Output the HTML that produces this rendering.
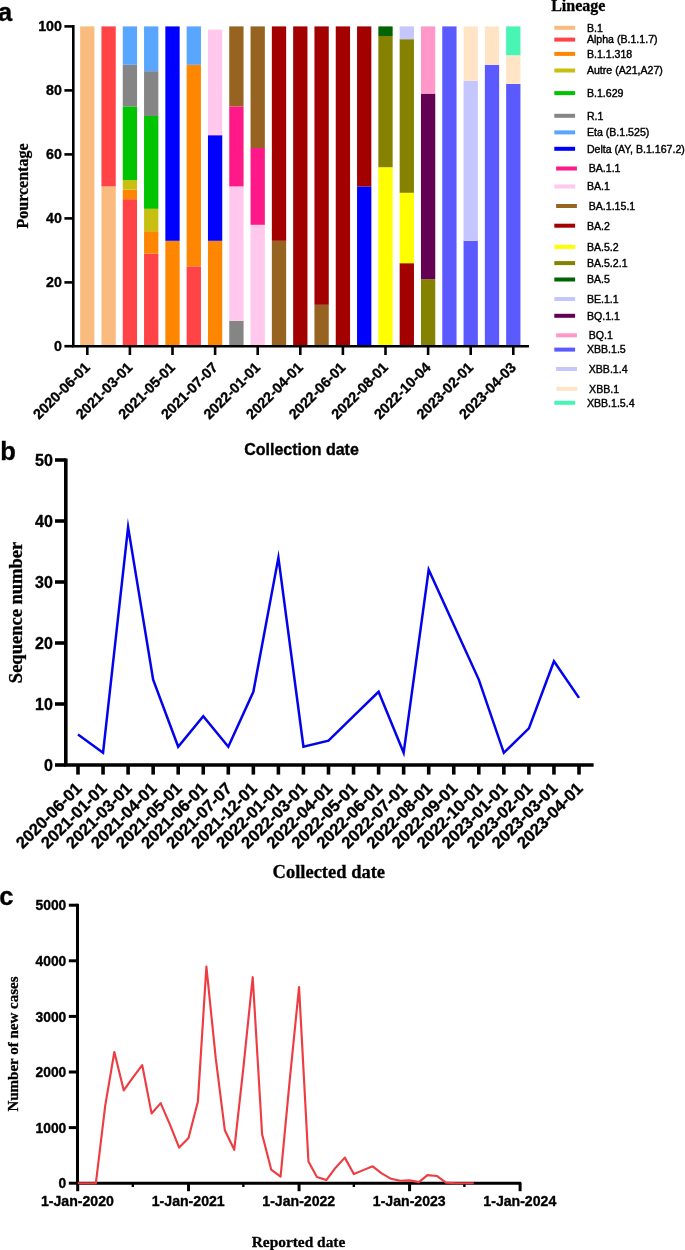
<!DOCTYPE html>
<html lang="en"><head><meta charset="utf-8"><title>Lineage figure</title>
<style>
html,body{margin:0;padding:0;background:#fff;}
svg{display:block;will-change:transform;transform:translateZ(0);}
.sb{font-family:"Liberation Sans", Arial, Helvetica, sans-serif;font-weight:bold;fill:#000;stroke:#000;stroke-width:0.35px;stroke-linejoin:round;}
.sr{font-family:"Liberation Sans", Arial, Helvetica, sans-serif;font-weight:normal;fill:#000;}
.tb{font-family:"Liberation Serif", "Times New Roman", Times, serif;font-weight:bold;fill:#000;stroke:#000;stroke-width:0.3px;stroke-linejoin:round;}
</style></head><body>
<svg width="685" height="1250" viewBox="0 0 685 1250">
<rect x="0" y="0" width="685" height="1250" fill="#ffffff"/>
<g id="panel-a">
<text class="sb" x="-2" y="21.2" font-size="25.5">a</text>
<rect x="80.15" y="26.40" width="14.30" height="320.00" fill="#F9BC7E"/>
<rect x="101.45" y="186.40" width="14.30" height="160.00" fill="#F9BC7E"/>
<rect x="101.45" y="26.40" width="14.30" height="160.00" fill="#FF4346"/>
<rect x="122.75" y="199.20" width="14.30" height="147.20" fill="#FF4346"/>
<rect x="122.75" y="189.60" width="14.30" height="9.60" fill="#FF8600"/>
<rect x="122.75" y="180.00" width="14.30" height="9.60" fill="#C8C010"/>
<rect x="122.75" y="106.40" width="14.30" height="73.60" fill="#00C400"/>
<rect x="122.75" y="64.80" width="14.30" height="41.60" fill="#858585"/>
<rect x="122.75" y="26.40" width="14.30" height="38.40" fill="#58A6FF"/>
<rect x="144.05" y="253.60" width="14.30" height="92.80" fill="#FF4346"/>
<rect x="144.05" y="231.20" width="14.30" height="22.40" fill="#FF8600"/>
<rect x="144.05" y="208.80" width="14.30" height="22.40" fill="#C8C010"/>
<rect x="144.05" y="116.00" width="14.30" height="92.80" fill="#00C400"/>
<rect x="144.05" y="71.20" width="14.30" height="44.80" fill="#858585"/>
<rect x="144.05" y="26.40" width="14.30" height="44.80" fill="#58A6FF"/>
<rect x="165.35" y="240.80" width="14.30" height="105.60" fill="#FF8600"/>
<rect x="165.35" y="26.40" width="14.30" height="214.40" fill="#0000FF"/>
<rect x="186.65" y="266.40" width="14.30" height="80.00" fill="#FF4346"/>
<rect x="186.65" y="64.80" width="14.30" height="201.60" fill="#FF8600"/>
<rect x="186.65" y="26.40" width="14.30" height="38.40" fill="#58A6FF"/>
<rect x="207.95" y="240.80" width="14.30" height="105.60" fill="#FF8600"/>
<rect x="207.95" y="135.20" width="14.30" height="105.60" fill="#0000FF"/>
<rect x="207.95" y="29.60" width="14.30" height="105.60" fill="#FFC8EC"/>
<rect x="229.25" y="320.80" width="14.30" height="25.60" fill="#858585"/>
<rect x="229.25" y="186.40" width="14.30" height="134.40" fill="#FFC8EC"/>
<rect x="229.25" y="106.40" width="14.30" height="80.00" fill="#FF1888"/>
<rect x="229.25" y="26.40" width="14.30" height="80.00" fill="#966420"/>
<rect x="250.55" y="224.80" width="14.30" height="121.60" fill="#FFC8EC"/>
<rect x="250.55" y="148.00" width="14.30" height="76.80" fill="#FF1888"/>
<rect x="250.55" y="26.40" width="14.30" height="121.60" fill="#966420"/>
<rect x="271.85" y="240.80" width="14.30" height="105.60" fill="#966420"/>
<rect x="271.85" y="26.40" width="14.30" height="214.40" fill="#A30000"/>
<rect x="293.15" y="26.40" width="14.30" height="320.00" fill="#A30000"/>
<rect x="314.45" y="304.80" width="14.30" height="41.60" fill="#966420"/>
<rect x="314.45" y="26.40" width="14.30" height="278.40" fill="#A30000"/>
<rect x="335.75" y="26.40" width="14.30" height="320.00" fill="#A30000"/>
<rect x="357.05" y="186.40" width="14.30" height="160.00" fill="#0000FF"/>
<rect x="357.05" y="26.40" width="14.30" height="160.00" fill="#A30000"/>
<rect x="378.35" y="167.20" width="14.30" height="179.20" fill="#FFFF00"/>
<rect x="378.35" y="36.00" width="14.30" height="131.20" fill="#848200"/>
<rect x="378.35" y="26.40" width="14.30" height="9.60" fill="#006400"/>
<rect x="399.65" y="263.20" width="14.30" height="83.20" fill="#A30000"/>
<rect x="399.65" y="192.80" width="14.30" height="70.40" fill="#FFFF00"/>
<rect x="399.65" y="39.20" width="14.30" height="153.60" fill="#848200"/>
<rect x="399.65" y="26.40" width="14.30" height="12.80" fill="#C6C6FF"/>
<rect x="420.95" y="279.20" width="14.30" height="67.20" fill="#848200"/>
<rect x="420.95" y="93.60" width="14.30" height="185.60" fill="#640054"/>
<rect x="420.95" y="26.40" width="14.30" height="67.20" fill="#FF98C8"/>
<rect x="442.25" y="26.40" width="14.30" height="320.00" fill="#5B5AFF"/>
<rect x="463.55" y="240.80" width="14.30" height="105.60" fill="#5B5AFF"/>
<rect x="463.55" y="80.80" width="14.30" height="160.00" fill="#C6C6FF"/>
<rect x="463.55" y="26.40" width="14.30" height="54.40" fill="#FFE4C6"/>
<rect x="484.85" y="64.80" width="14.30" height="281.60" fill="#5B5AFF"/>
<rect x="484.85" y="26.40" width="14.30" height="38.40" fill="#FFE4C6"/>
<rect x="506.15" y="84.00" width="14.30" height="262.40" fill="#5B5AFF"/>
<rect x="506.15" y="55.20" width="14.30" height="28.80" fill="#FFE4C6"/>
<rect x="506.15" y="26.40" width="14.30" height="28.80" fill="#48F5B4"/>
<path d="M73.30 25.10 V346.20 H529" fill="none" stroke="#000" stroke-width="2.6"/>
<path d="M64.4 346.20 H73.30" stroke="#000" stroke-width="2.6"/>
<text class="sb" x="61.8" y="351.40" font-size="14.2" text-anchor="end">0</text>
<path d="M64.4 282.40 H73.30" stroke="#000" stroke-width="2.6"/>
<text class="sb" x="61.8" y="287.40" font-size="14.2" text-anchor="end">20</text>
<path d="M64.4 218.40 H73.30" stroke="#000" stroke-width="2.6"/>
<text class="sb" x="61.8" y="223.40" font-size="14.2" text-anchor="end">40</text>
<path d="M64.4 154.40 H73.30" stroke="#000" stroke-width="2.6"/>
<text class="sb" x="61.8" y="159.40" font-size="14.2" text-anchor="end">60</text>
<path d="M64.4 90.40 H73.30" stroke="#000" stroke-width="2.6"/>
<text class="sb" x="61.8" y="95.40" font-size="14.2" text-anchor="end">80</text>
<path d="M64.4 26.40 H73.30" stroke="#000" stroke-width="2.6"/>
<text class="sb" x="61.8" y="31.40" font-size="14.2" text-anchor="end">100</text>
<path d="M87.30 346.40 V355" stroke="#000" stroke-width="2.6"/>
<text class="sb" font-size="14.3" text-anchor="end" transform="translate(90.80 368.3) rotate(-45)">2020-06-01</text>
<path d="M129.90 346.40 V355" stroke="#000" stroke-width="2.6"/>
<text class="sb" font-size="14.3" text-anchor="end" transform="translate(133.40 368.3) rotate(-45)">2021-03-01</text>
<path d="M172.50 346.40 V355" stroke="#000" stroke-width="2.6"/>
<text class="sb" font-size="14.3" text-anchor="end" transform="translate(176.00 368.3) rotate(-45)">2021-05-01</text>
<path d="M215.10 346.40 V355" stroke="#000" stroke-width="2.6"/>
<text class="sb" font-size="14.3" text-anchor="end" transform="translate(218.60 368.3) rotate(-45)">2021-07-07</text>
<path d="M257.70 346.40 V355" stroke="#000" stroke-width="2.6"/>
<text class="sb" font-size="14.3" text-anchor="end" transform="translate(261.20 368.3) rotate(-45)">2022-01-01</text>
<path d="M300.30 346.40 V355" stroke="#000" stroke-width="2.6"/>
<text class="sb" font-size="14.3" text-anchor="end" transform="translate(303.80 368.3) rotate(-45)">2022-04-01</text>
<path d="M342.90 346.40 V355" stroke="#000" stroke-width="2.6"/>
<text class="sb" font-size="14.3" text-anchor="end" transform="translate(346.40 368.3) rotate(-45)">2022-06-01</text>
<path d="M385.50 346.40 V355" stroke="#000" stroke-width="2.6"/>
<text class="sb" font-size="14.3" text-anchor="end" transform="translate(389.00 368.3) rotate(-45)">2022-08-01</text>
<path d="M428.10 346.40 V355" stroke="#000" stroke-width="2.6"/>
<text class="sb" font-size="14.3" text-anchor="end" transform="translate(431.60 368.3) rotate(-45)">2022-10-04</text>
<path d="M470.70 346.40 V355" stroke="#000" stroke-width="2.6"/>
<text class="sb" font-size="14.3" text-anchor="end" transform="translate(474.20 368.3) rotate(-45)">2023-02-01</text>
<path d="M513.30 346.40 V355" stroke="#000" stroke-width="2.6"/>
<text class="sb" font-size="14.3" text-anchor="end" transform="translate(516.80 368.3) rotate(-45)">2023-04-03</text>
<text class="tb" font-size="16" text-anchor="middle" transform="translate(27.7 186) rotate(-90)">Pourcentage</text>
<text class="sb" font-size="16" text-anchor="middle" x="301.5" y="455.1">Collection date</text>
<text class="tb" font-size="16" x="551.2" y="10.6">Lineage</text>
<rect x="554.30" y="25.80" width="20.8" height="4" fill="#F9BC7E"/>
<text class="sr" font-size="10.6" x="586.90" y="31.60" stroke="#000" stroke-width="0.4">B.1</text>
<rect x="554.30" y="37.60" width="20.8" height="4" fill="#FF4346"/>
<text class="sr" font-size="10.6" x="586.90" y="43.40" stroke="#000" stroke-width="0.4">Alpha (B.1.1.7)</text>
<rect x="554.30" y="51.90" width="20.8" height="4" fill="#FF8600"/>
<text class="sr" font-size="10.6" x="586.90" y="57.70" stroke="#000" stroke-width="0.4">B.1.1.318</text>
<rect x="554.30" y="68.50" width="20.8" height="4" fill="#C8C010"/>
<text class="sr" font-size="10.6" x="586.90" y="74.30" stroke="#000" stroke-width="0.4">Autre (A21,A27)</text>
<rect x="554.30" y="91.10" width="20.8" height="4" fill="#00C400"/>
<text class="sr" font-size="10.6" x="586.90" y="96.90" stroke="#000" stroke-width="0.4">B.1.629</text>
<rect x="554.30" y="113.80" width="20.8" height="4" fill="#858585"/>
<text class="sr" font-size="10.6" x="586.90" y="119.60" stroke="#000" stroke-width="0.4">R.1</text>
<rect x="554.30" y="130.40" width="20.8" height="4" fill="#58A6FF"/>
<text class="sr" font-size="10.6" x="586.90" y="136.20" stroke="#000" stroke-width="0.4">Eta (B.1.525)</text>
<rect x="554.30" y="146.80" width="20.8" height="4" fill="#0000FF"/>
<text class="sr" font-size="10.6" x="586.90" y="152.60" stroke="#000" stroke-width="0.4">Delta (AY, B.1.167.2)</text>
<rect x="556.10" y="166.50" width="20.8" height="4" fill="#FF1888"/>
<text class="sr" font-size="10.6" x="588.70" y="172.30" stroke="#000" stroke-width="0.4">BA.1.1</text>
<rect x="554.30" y="184.50" width="20.8" height="4" fill="#FFC8EC"/>
<text class="sr" font-size="10.6" x="586.90" y="190.30" stroke="#000" stroke-width="0.4">BA.1</text>
<rect x="556.10" y="204.00" width="20.8" height="4" fill="#966420"/>
<text class="sr" font-size="10.6" x="588.70" y="209.80" stroke="#000" stroke-width="0.4">BA.1.15.1</text>
<rect x="554.30" y="223.70" width="20.8" height="4" fill="#A30000"/>
<text class="sr" font-size="10.6" x="586.90" y="229.50" stroke="#000" stroke-width="0.4">BA.2</text>
<rect x="554.30" y="244.90" width="20.8" height="4" fill="#FFFF00"/>
<text class="sr" font-size="10.6" x="586.90" y="250.70" stroke="#000" stroke-width="0.4">BA.5.2</text>
<rect x="554.30" y="261.10" width="20.8" height="4" fill="#848200"/>
<text class="sr" font-size="10.6" x="586.90" y="266.90" stroke="#000" stroke-width="0.4">BA.5.2.1</text>
<rect x="554.30" y="277.50" width="20.8" height="4" fill="#006400"/>
<text class="sr" font-size="10.6" x="586.90" y="283.30" stroke="#000" stroke-width="0.4">BA.5</text>
<rect x="554.30" y="297.00" width="20.8" height="4" fill="#C6C6FF"/>
<text class="sr" font-size="10.6" x="586.90" y="302.80" stroke="#000" stroke-width="0.4">BE.1.1</text>
<rect x="554.30" y="313.80" width="20.8" height="4" fill="#640054"/>
<text class="sr" font-size="10.6" x="586.90" y="319.60" stroke="#000" stroke-width="0.4">BQ.1.1</text>
<rect x="556.10" y="333.30" width="20.8" height="4" fill="#FF98C8"/>
<text class="sr" font-size="10.6" x="588.70" y="339.10" stroke="#000" stroke-width="0.4">BQ.1</text>
<rect x="554.30" y="347.60" width="20.8" height="4" fill="#5B5AFF"/>
<text class="sr" font-size="10.6" x="586.90" y="353.40" stroke="#000" stroke-width="0.4">XBB.1.5</text>
<rect x="556.10" y="367.00" width="20.8" height="4" fill="#C6C6FF"/>
<text class="sr" font-size="10.6" x="588.70" y="372.80" stroke="#000" stroke-width="0.4">XBB.1.4</text>
<rect x="556.50" y="386.80" width="20.8" height="4" fill="#FFE4C6"/>
<text class="sr" font-size="10.6" x="589.10" y="392.60" stroke="#000" stroke-width="0.4">XBB.1</text>
<rect x="554.30" y="400.80" width="20.8" height="4" fill="#48F5B4"/>
<text class="sr" font-size="10.6" x="586.90" y="406.60" stroke="#000" stroke-width="0.4">XBB.1.5.4</text>
</g>
<g id="panel-b">
<text class="sb" x="0.2" y="460.4" font-size="25.5">b</text>
<polyline points="78.00,734.50 103.05,752.80 128.10,527.10 153.15,679.60 178.20,746.70 203.25,716.20 228.30,746.70 253.35,691.80 278.40,557.60 303.45,746.70 328.50,740.60 353.55,716.20 378.60,691.80 403.65,752.80 428.70,569.80 453.75,624.70 478.80,679.60 503.85,752.80 528.90,728.40 553.95,661.30 579.00,697.90" fill="none" stroke="#0404EC" stroke-width="2.5" stroke-linejoin="miter" stroke-miterlimit="30"/>
<path d="M65.80 458.40 V765.00 H593.6" fill="none" stroke="#000" stroke-width="3.6"/>
<path d="M55.0 765.00 H65.80" stroke="#000" stroke-width="3.6"/>
<text class="sb" x="52.8" y="771.10" font-size="16" text-anchor="end">0</text>
<path d="M55.0 704.00 H65.80" stroke="#000" stroke-width="3.6"/>
<text class="sb" x="52.8" y="710.10" font-size="16" text-anchor="end">10</text>
<path d="M55.0 643.00 H65.80" stroke="#000" stroke-width="3.6"/>
<text class="sb" x="52.8" y="649.10" font-size="16" text-anchor="end">20</text>
<path d="M55.0 582.00 H65.80" stroke="#000" stroke-width="3.6"/>
<text class="sb" x="52.8" y="588.10" font-size="16" text-anchor="end">30</text>
<path d="M55.0 521.00 H65.80" stroke="#000" stroke-width="3.6"/>
<text class="sb" x="52.8" y="527.10" font-size="16" text-anchor="end">40</text>
<path d="M55.0 460.00 H65.80" stroke="#000" stroke-width="3.6"/>
<text class="sb" x="52.8" y="466.10" font-size="16" text-anchor="end">50</text>
<path d="M78.00 765.00 V774.6" stroke="#000" stroke-width="3.6"/>
<text class="sb" font-size="16.6" text-anchor="end" transform="translate(82.70 789.5) rotate(-45)">2020-06-01</text>
<path d="M103.05 765.00 V774.6" stroke="#000" stroke-width="3.6"/>
<text class="sb" font-size="16.6" text-anchor="end" transform="translate(107.75 789.5) rotate(-45)">2021-01-01</text>
<path d="M128.10 765.00 V774.6" stroke="#000" stroke-width="3.6"/>
<text class="sb" font-size="16.6" text-anchor="end" transform="translate(132.80 789.5) rotate(-45)">2021-03-01</text>
<path d="M153.15 765.00 V774.6" stroke="#000" stroke-width="3.6"/>
<text class="sb" font-size="16.6" text-anchor="end" transform="translate(157.85 789.5) rotate(-45)">2021-04-01</text>
<path d="M178.20 765.00 V774.6" stroke="#000" stroke-width="3.6"/>
<text class="sb" font-size="16.6" text-anchor="end" transform="translate(182.90 789.5) rotate(-45)">2021-05-01</text>
<path d="M203.25 765.00 V774.6" stroke="#000" stroke-width="3.6"/>
<text class="sb" font-size="16.6" text-anchor="end" transform="translate(207.95 789.5) rotate(-45)">2021-06-01</text>
<path d="M228.30 765.00 V774.6" stroke="#000" stroke-width="3.6"/>
<text class="sb" font-size="16.6" text-anchor="end" transform="translate(233.00 789.5) rotate(-45)">2021-07-07</text>
<path d="M253.35 765.00 V774.6" stroke="#000" stroke-width="3.6"/>
<text class="sb" font-size="16.6" text-anchor="end" transform="translate(258.05 789.5) rotate(-45)">2021-12-01</text>
<path d="M278.40 765.00 V774.6" stroke="#000" stroke-width="3.6"/>
<text class="sb" font-size="16.6" text-anchor="end" transform="translate(283.10 789.5) rotate(-45)">2022-01-01</text>
<path d="M303.45 765.00 V774.6" stroke="#000" stroke-width="3.6"/>
<text class="sb" font-size="16.6" text-anchor="end" transform="translate(308.15 789.5) rotate(-45)">2022-03-01</text>
<path d="M328.50 765.00 V774.6" stroke="#000" stroke-width="3.6"/>
<text class="sb" font-size="16.6" text-anchor="end" transform="translate(333.20 789.5) rotate(-45)">2022-04-01</text>
<path d="M353.55 765.00 V774.6" stroke="#000" stroke-width="3.6"/>
<text class="sb" font-size="16.6" text-anchor="end" transform="translate(358.25 789.5) rotate(-45)">2022-05-01</text>
<path d="M378.60 765.00 V774.6" stroke="#000" stroke-width="3.6"/>
<text class="sb" font-size="16.6" text-anchor="end" transform="translate(383.30 789.5) rotate(-45)">2022-06-01</text>
<path d="M403.65 765.00 V774.6" stroke="#000" stroke-width="3.6"/>
<text class="sb" font-size="16.6" text-anchor="end" transform="translate(408.35 789.5) rotate(-45)">2022-07-01</text>
<path d="M428.70 765.00 V774.6" stroke="#000" stroke-width="3.6"/>
<text class="sb" font-size="16.6" text-anchor="end" transform="translate(433.40 789.5) rotate(-45)">2022-08-01</text>
<path d="M453.75 765.00 V774.6" stroke="#000" stroke-width="3.6"/>
<text class="sb" font-size="16.6" text-anchor="end" transform="translate(458.45 789.5) rotate(-45)">2022-09-01</text>
<path d="M478.80 765.00 V774.6" stroke="#000" stroke-width="3.6"/>
<text class="sb" font-size="16.6" text-anchor="end" transform="translate(483.50 789.5) rotate(-45)">2022-10-01</text>
<path d="M503.85 765.00 V774.6" stroke="#000" stroke-width="3.6"/>
<text class="sb" font-size="16.6" text-anchor="end" transform="translate(508.55 789.5) rotate(-45)">2023-01-01</text>
<path d="M528.90 765.00 V774.6" stroke="#000" stroke-width="3.6"/>
<text class="sb" font-size="16.6" text-anchor="end" transform="translate(533.60 789.5) rotate(-45)">2023-02-01</text>
<path d="M553.95 765.00 V774.6" stroke="#000" stroke-width="3.6"/>
<text class="sb" font-size="16.6" text-anchor="end" transform="translate(558.65 789.5) rotate(-45)">2023-03-01</text>
<path d="M579.00 765.00 V774.6" stroke="#000" stroke-width="3.6"/>
<text class="sb" font-size="16.6" text-anchor="end" transform="translate(583.70 789.5) rotate(-45)">2023-04-01</text>
<text class="tb" font-size="18.5" text-anchor="middle" transform="translate(21.9 612.5) rotate(-90)">Sequence number</text>
<text class="tb" font-size="18.5" text-anchor="middle" x="328.8" y="877.5">Collected date</text>
</g>
<g id="panel-c">
<text class="sb" x="-0.8" y="904.5" font-size="25.5">c</text>
<path d="M77.50 903.70 V1183.20 H521.3" fill="none" stroke="#000" stroke-width="3"/>
<path d="M68.8 1183.20 H77.50" stroke="#000" stroke-width="3"/>
<text class="sb" x="66.3" y="1188.40" font-size="13.8" text-anchor="end">0</text>
<path d="M68.8 1127.60 H77.50" stroke="#000" stroke-width="3"/>
<text class="sb" x="66.3" y="1132.80" font-size="13.8" text-anchor="end">1000</text>
<path d="M68.8 1072.00 H77.50" stroke="#000" stroke-width="3"/>
<text class="sb" x="66.3" y="1077.20" font-size="13.8" text-anchor="end">2000</text>
<path d="M68.8 1016.40 H77.50" stroke="#000" stroke-width="3"/>
<text class="sb" x="66.3" y="1021.60" font-size="13.8" text-anchor="end">3000</text>
<path d="M68.8 960.80 H77.50" stroke="#000" stroke-width="3"/>
<text class="sb" x="66.3" y="966.00" font-size="13.8" text-anchor="end">4000</text>
<path d="M68.8 905.20 H77.50" stroke="#000" stroke-width="3"/>
<text class="sb" x="66.3" y="910.40" font-size="13.8" text-anchor="end">5000</text>
<path d="M77.70 1183.20 V1191.2" stroke="#000" stroke-width="3"/>
<text class="sb" font-size="14.1" text-anchor="middle" x="77.40" y="1206.4">1-Jan-2020</text>
<path d="M132.81 1183.20 V1187" stroke="#000" stroke-width="2.4"/>
<path d="M188.53 1183.20 V1191.2" stroke="#000" stroke-width="3"/>
<text class="sb" font-size="14.1" text-anchor="middle" x="188.23" y="1206.4">1-Jan-2021</text>
<path d="M243.34 1183.20 V1187" stroke="#000" stroke-width="2.4"/>
<path d="M299.05 1183.20 V1191.2" stroke="#000" stroke-width="3"/>
<text class="sb" font-size="14.1" text-anchor="middle" x="298.75" y="1206.4">1-Jan-2022</text>
<path d="M353.86 1183.20 V1187" stroke="#000" stroke-width="2.4"/>
<path d="M409.58 1183.20 V1191.2" stroke="#000" stroke-width="3"/>
<text class="sb" font-size="14.1" text-anchor="middle" x="409.28" y="1206.4">1-Jan-2023</text>
<path d="M464.38 1183.20 V1187" stroke="#000" stroke-width="2.4"/>
<path d="M520.10 1183.20 V1191.2" stroke="#000" stroke-width="3"/>
<text class="sb" font-size="14.1" text-anchor="middle" x="519.80" y="1206.4">1-Jan-2024</text>
<polyline points="77.70,1183.20 87.09,1183.20 95.87,1183.20 105.26,1105.36 114.34,1051.98 123.73,1090.35 132.81,1077.56 142.20,1065.05 151.58,1113.42 160.67,1103.14 170.06,1124.82 179.14,1147.62 188.53,1138.00 197.91,1101.41 206.39,966.53 215.78,1058.66 224.86,1130.32 234.25,1149.84 243.34,1068.11 252.72,977.20 262.11,1134.22 271.19,1169.52 280.58,1176.58 289.66,1080.90 299.05,987.10 308.44,1161.52 316.92,1176.92 326.30,1180.09 335.39,1167.91 344.78,1157.62 353.86,1174.03 363.25,1170.13 372.63,1166.30 381.72,1173.41 391.10,1178.81 400.19,1180.70 409.58,1180.42 418.96,1182.09 427.44,1175.14 436.83,1175.97 445.91,1182.64 455.30,1183.20 464.38,1183.20 473.77,1183.20" fill="none" stroke="#ED3D42" stroke-width="2.15" stroke-linejoin="round"/>
<text class="tb" font-size="15" text-anchor="middle" transform="translate(17.8 1044.0) rotate(-90)">Number of new cases</text>
<text class="tb" font-size="15.4" text-anchor="middle" x="298.5" y="1247">Reported date</text>
</g>
</svg></body></html>
